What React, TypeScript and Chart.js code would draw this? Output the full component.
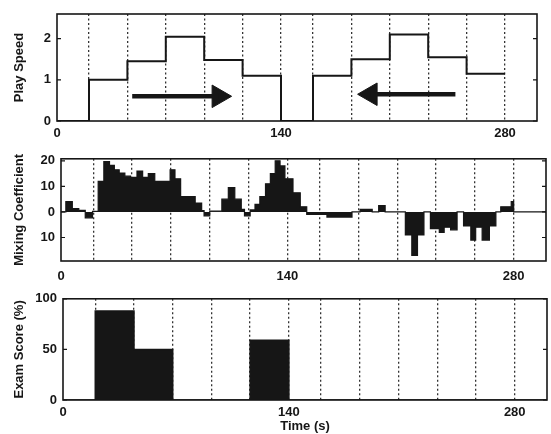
import React, { useEffect, useRef } from "react";
import { Chart, registerables } from "chart.js";

Chart.register(...registerables);

// ---------- data ----------
const X_MAX = 300;
const SEGMENT_LINES = [20, 44, 68, 92, 116, 140, 160, 184, 208, 232, 256, 280];
const X_LABELED = [0, 140, 280];

// Play speed (step holds from each time to the next)
const speedTimes = [0, 20, 44, 68, 92, 116, 140, 160, 184, 208, 232, 256, 280];
const speedValues = [0, 1.0, 1.45, 2.05, 1.48, 1.1, 0, 1.1, 1.5, 2.1, 1.55, 1.15, 1.15];
const speedTicks = [0, 1, 2];

// Arrows (time from tail to head centre, level)
const rightArrowTimes = [47, 101];
const rightArrowLevel = 0.6;
const leftArrowTimes = [249, 196];
const leftArrowLevel = 0.65;

// Mixing coefficient (step holds from each time to the next)
const mixTimes = [
  0, 3, 7, 11, 15, 19.5, 23, 26.5, 30, 33,
  36, 39.5, 43, 47, 50.5, 54, 58, 67.5, 70.5, 74,
  83, 87, 88.5, 92, 99.5, 103.5, 107.5, 111.5, 113.5, 117,
  120, 123, 126.5, 129.5, 132.5, 135.5, 138.5, 143.5, 148, 152,
  164.5, 180, 185, 192.5, 196.5, 200.5, 213, 217, 220.5, 224.5,
  228.5, 234, 237, 241, 245, 249, 253.5, 256.5, 260.5, 265,
  269, 272, 278.5, 280, 300,
];
const mixValues = [
  0, 4, 1.3, 0.6, -2.3, 0.2, 12, 19.7, 18.2, 16.5,
  15.2, 14, 13.5, 16, 13.5, 15, 12, 16.5, 13, 6,
  3.5, 0.5, -1.5, 0.3, 5, 9.5, 5, 1, -1.5, 0.8,
  3, 6, 11, 15, 20, 18, 13, 7.5, 2, -1,
  -2, 0, 1, 0, 2.5, 0, -9, -17, -9, 0,
  -6.5, -8, -6, -7, 0, -5.5, -11, -6, -11, -5.5,
  0, 2, 4, 0, 0,
];
const mixTicks = [-10, 0, 10, 20];

// Exam score (step holds from each time to the next)
const examTimes = [0, 20, 44, 68, 116, 140, 300];
const examValues = [0, 88, 50, 0, 59, 0, 0];
const examTicks = [0, 50, 100];

// ---------- helpers ----------
const INK = "#161616";
const FONT = { family: "'Liberation Sans', Arial, Helvetica, sans-serif", weight: "bold" as const, size: 13 };

const toPoints = (xs: number[], ys: number[]) => xs.map((x, i) => ({ x, y: ys[i] }));

const framePlugin = {
  id: "frame",
  afterDraw(chart: any) {
    const { ctx, chartArea: a, scales } = chart;
    ctx.save();
    ctx.strokeStyle = INK;
    ctx.lineWidth = 1.6;
    ctx.strokeRect(a.left, a.top, a.right - a.left, a.bottom - a.top);
    const y = scales.y;
    ctx.lineWidth = 1.2;
    ctx.beginPath();
    y.ticks.forEach((t: any) => {
      const py = y.getPixelForValue(t.value);
      ctx.moveTo(a.left, py);
      ctx.lineTo(a.left + 4, py);
      ctx.moveTo(a.right, py);
      ctx.lineTo(a.right - 4, py);
    });
    ctx.stroke();
    ctx.restore();
  },
};

interface PanelOpts {
  height: number;
  left: number;
  right: number;
  top: number;
  bottom: number;
  yMin: number;
  yMax: number;
  yTicks: number[];
  yLabel: (v: number) => string;
  yTitle: string;
  xPad: number;
  xTitle?: string;
}

function makeOptions(p: PanelOpts): any {
  return {
    animation: false,
    responsive: false,
    devicePixelRatio: 1,
    layout: { padding: { left: 0, top: p.top, right: 551 - p.right, bottom: 0 } },
    plugins: { legend: { display: false }, tooltip: { enabled: false } },
    scales: {
      x: {
        type: "linear",
        min: 0,
        max: X_MAX,
        afterBuildTicks: (s: any) => {
          s.ticks = [0, ...SEGMENT_LINES].map((v) => ({ value: v }));
        },
        afterFit: (s: any) => {
          s.height = p.height - p.bottom;
        },
        ticks: {
          autoSkip: false,
          maxRotation: 0,
          padding: p.xPad,
          color: INK,
          font: FONT,
          callback: (v: number) => (X_LABELED.includes(v) ? String(v) : ""),
        },
        grid: {
          drawTicks: false,
          tickLength: 0,
          lineWidth: 1.3,
          color: (c: any) => (c.tick && c.tick.value === 0 ? "rgba(0,0,0,0)" : "#333"),
        },
        border: { display: false, dash: [2, 2.5] },
        title: p.xTitle
          ? { display: true, text: p.xTitle, color: INK, font: FONT, padding: { top: 0, bottom: 0 } }
          : { display: false },
      },
      y: {
        type: "linear",
        min: p.yMin,
        max: p.yMax,
        afterBuildTicks: (s: any) => {
          s.ticks = p.yTicks.map((v) => ({ value: v }));
        },
        afterFit: (s: any) => {
          s.width = p.left;
        },
        ticks: {
          padding: 6,
          color: INK,
          font: FONT,
          callback: (v: number) => p.yLabel(v),
        },
        grid: { display: false, drawTicks: false, tickLength: 0 },
        border: { display: false },
        title: {
          display: true,
          text: p.yTitle,
          color: INK,
          font: FONT,
          padding: { top: 12, bottom: 0 },
        },
      },
    },
  };
}

const H1 = 145;
const H2 = 140;
const H3 = 149;

export default function App() {
  const c1 = useRef<HTMLCanvasElement>(null);
  const c2 = useRef<HTMLCanvasElement>(null);
  const c3 = useRef<HTMLCanvasElement>(null);

  useEffect(() => {
    const charts: Chart[] = [];

    // Panel 1: Play speed
    charts.push(
      new Chart(c1.current!, {
        type: "line",
        data: {
          datasets: [
            {
              data: toPoints(speedTimes, speedValues),
              stepped: "before",
              borderColor: INK,
              borderWidth: 2,
              pointRadius: 0,
              fill: false,
            },
            {
              data: rightArrowTimes.map((x) => ({ x, y: rightArrowLevel })),
              borderColor: INK,
              borderWidth: 4.5,
              pointRadius: 0,
              fill: false,
            },
            {
              data: [{ x: rightArrowTimes[1], y: rightArrowLevel }],
              showLine: false,
              pointStyle: "triangle",
              rotation: 90,
              pointRadius: 13,
              backgroundColor: INK,
              borderColor: INK,
            },
            {
              data: leftArrowTimes.map((x) => ({ x, y: leftArrowLevel })),
              borderColor: INK,
              borderWidth: 4.5,
              pointRadius: 0,
              fill: false,
            },
            {
              data: [{ x: leftArrowTimes[1], y: leftArrowLevel }],
              showLine: false,
              pointStyle: "triangle",
              rotation: -90,
              pointRadius: 13,
              backgroundColor: INK,
              borderColor: INK,
            },
          ] as any,
        },
        options: makeOptions({
          height: H1,
          left: 57,
          right: 544,
          top: 11,
          bottom: 121,
          yMin: 0,
          yMax: 2.6,
          yTicks: speedTicks,
          yLabel: (v) => String(v),
          yTitle: "Play Speed",
          xPad: 5,
        }),
        plugins: [framePlugin],
      })
    );

    // Panel 2: Mixing coefficient
    charts.push(
      new Chart(c2.current!, {
        type: "line",
        data: {
          datasets: [
            {
              data: toPoints(mixTimes, mixValues),
              stepped: "before",
              borderColor: INK,
              borderWidth: 1.2,
              backgroundColor: INK,
              pointRadius: 0,
              fill: "origin",
            },
          ] as any,
        },
        options: makeOptions({
          height: H2,
          left: 61,
          right: 546,
          top: 12,
          bottom: 116,
          yMin: -19.2,
          yMax: 20.8,
          yTicks: mixTicks,
          yLabel: (v) => String(Math.abs(v)),
          yTitle: "Mixing Coefficient",
          xPad: 8,
        }),
        plugins: [framePlugin],
      })
    );

    // Panel 3: Exam score
    charts.push(
      new Chart(c3.current!, {
        type: "line",
        data: {
          datasets: [
            {
              data: toPoints(examTimes, examValues),
              stepped: "before",
              borderColor: INK,
              borderWidth: 1.5,
              backgroundColor: INK,
              pointRadius: 0,
              fill: "origin",
            },
          ] as any,
        },
        options: makeOptions({
          height: H3,
          left: 63,
          right: 547,
          top: 10,
          bottom: 115,
          yMin: 0,
          yMax: 100,
          yTicks: examTicks,
          yLabel: (v) => String(v),
          yTitle: "Exam Score (%)",
          xPad: 5,
          xTitle: "Time (s)",
        }),
        plugins: [framePlugin],
      })
    );

    return () => charts.forEach((c) => c.destroy());
  }, []);

  const cs: React.CSSProperties = { position: "absolute", left: 0, display: "block" };
  return (
    <div style={{ position: "fixed", left: 0, top: 0, width: 551, height: 434, background: "#fff" }}>
      <canvas ref={c1} width={551} height={H1} style={{ ...cs, top: 0, width: 551, height: H1 }} />
      <canvas ref={c2} width={551} height={H2} style={{ ...cs, top: 145, width: 551, height: H2 }} />
      <canvas ref={c3} width={551} height={H3} style={{ ...cs, top: 285, width: 551, height: H3 }} />
    </div>
  );
}
